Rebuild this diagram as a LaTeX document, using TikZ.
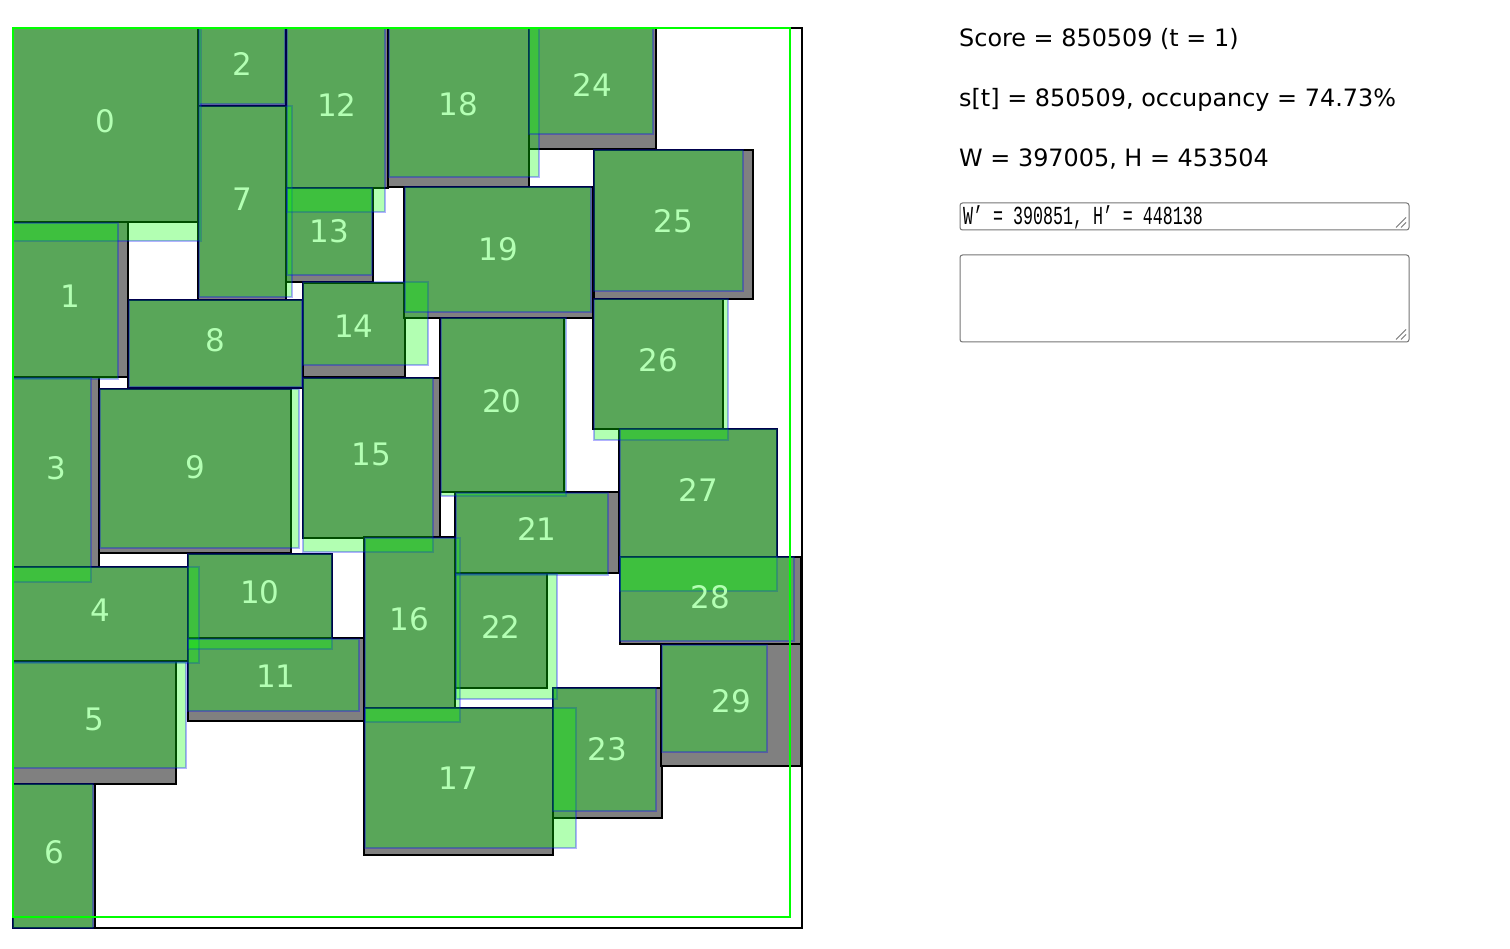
\documentclass[tikz,border=0pt]{standalone}
\usepackage{fontspec}
\usepackage{graphicx}
\newfontfamily\labfont{DejaVu Sans}
\newfontfamily\uifont{DejaVu Sans}
\newfontfamily\areafont{Liberation Mono}
\definecolor{boxgray}{RGB}{128,128,128}
\definecolor{labgreen}{RGB}{179,255,179}
\definecolor{areagray}{RGB}{118,118,118}
\tikzset{
  actual/.style={fill=boxgray, draw=black, line width=1.8pt},
  planned/.style={fill=green, fill opacity=0.3, draw=blue, draw opacity=0.3, line width=2pt},
  idlabel/.style={text=labgreen, font=\labfont\fontsize{31}{31}\selectfont, inner sep=0pt},
  info/.style={anchor=base west, font=\uifont\fontsize{23.9}{23.9}\selectfont, inner sep=0pt},
  area/.style={draw=areagray, line width=1pt, rounded corners=2.5pt, anchor=north west, inner sep=0pt},
  grip/.style={draw=areagray, line width=0.9pt},
}
\def\actuallist{0/13/28/198/222, 1/13/222/128/377, 2/198/28/286/106, 3/13/377/99/567,
 4/13/567/188/661, 5/13/661/176/784, 6/13/784/95/928, 7/198/106/286/300,
 8/128/300/303/388, 9/99/389/291/553, 10/188/554/332/638, 11/188/638/364/721,
 12/286/28/388/188, 13/286/188/373/282, 14/303/283/405/377, 15/303/378/440/538,
 16/364/537/455/708, 17/364/708/553/855, 18/388/28/529/187, 19/404/187/593/318,
 20/440/318/564/492, 21/455/492/619/573, 22/455/573/547/688, 23/553/688/662/818,
 24/529/28/656/149, 25/594/150/753/299, 26/593/299/723/429, 27/619/429/777/557,
 28/620/557/801/644, 29/661/644/801/766}
\def\plannedlist{0/13/28/201/241, 1/13/223/118/379, 2/199/28/285/104, 3/13/378/91/582,
 4/13/567/199/663, 5/13/662/186/768, 6/13/784/93/928, 7/199/106/292/297,
 8/129/300/302/387, 9/100/389/299/548, 10/188/554/332/649, 11/188/639/359/711,
 12/287/28/385/212, 13/287/188/372/275, 14/303/282/428/365, 15/303/378/433/552,
 16/365/538/460/722, 17/365/708/576/848, 18/389/28/539/177, 19/405/187/591/312,
 20/441/318/566/496, 21/456/493/608/575, 22/456/574/557/699, 23/553/688/656/811,
 24/529/28/653/134, 25/594/150/743/291, 26/594/299/728/440, 27/620/429/777/591,
 28/620/557/794/641, 29/662/645/767/752}
\begin{document}
\begin{tikzpicture}[x=1pt,y=-1pt]
\useasboundingbox (0,0) rectangle (1510,949);
\fill[white] (0,0) rectangle (1510,949);
% outer frame W x H
\draw[black, line width=2pt] (13,28) rectangle (801.5,927.5);
% actual placements
\foreach \n/\a/\b/\c/\d in \actuallist {
  \draw[actual] (\a,\b) rectangle (\c,\d);
}
% planned placements
\foreach \n/\a/\b/\c/\d in \plannedlist {
  \draw[planned] (\a,\b) rectangle (\c,\d);
}
% frame W' x H'
\draw[green, line width=2pt] (13,28) rectangle (790,917);
% labels
\foreach \n/\a/\b/\c/\d in \actuallist {
  \node[idlabel] (lab\n) at ({(\a+\c)/2},{(\b+\d)/2-3.5}) {\n};
}
% info text
\node[info] (score) at (959,46.7) {Score = 850509 (t = 1)};
\node[info] (st) at (959,106.7) {s[t] = 850509, occupancy = 74.73\%};
\node[info] (wh) at (959,166.7) {W = 397005, H = 453504};
% text areas
\node[area, minimum width=449pt, minimum height=27pt] (box1) at (959.5,202.5) {};
\node[area, minimum width=449pt, minimum height=87pt] (box2) at (959.5,254.5) {};
\node[anchor=base west, inner sep=0pt] (wprime) at (963,224.5)
  {\scalebox{0.64}[1]{\areafont\fontsize{26}{26}\selectfont W’ = 390851, H’ = 448138}};
\draw[grip] ([shift={(-3.5,-13)}]box1.south east) -- ([shift={(-13.5,-3)}]box1.south east);
\draw[grip] ([shift={(-3.5,-8)}]box1.south east) -- ([shift={(-8.5,-3)}]box1.south east);
\draw[grip] ([shift={(-3.5,-13)}]box2.south east) -- ([shift={(-13.5,-3)}]box2.south east);
\draw[grip] ([shift={(-3.5,-8)}]box2.south east) -- ([shift={(-8.5,-3)}]box2.south east);
\end{tikzpicture}
\end{document}
